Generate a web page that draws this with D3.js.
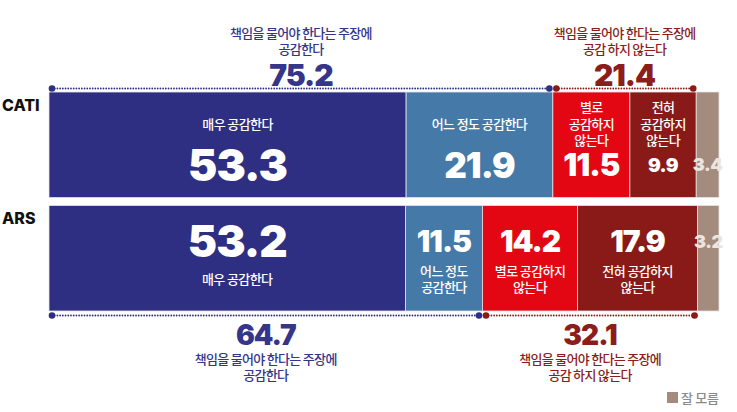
<!DOCTYPE html>
<html><head><meta charset="utf-8">
<script src="https://cdn.jsdelivr.net/npm/d3@7"></script>
<style>
html,body{margin:0;padding:0;background:#fff;}
svg{display:block;}
.kr{font-family:"Noto Sans CJK KR","Noto Sans",sans-serif;font-weight:500;}
.num{font-family:Inter,"Noto Sans",sans-serif;font-weight:900;}
</style></head>
<body>
<svg id="chart" width="737" height="412"></svg>
<script>
// ---- data ----
const methods = ["CATI", "ARS"];
const categories = ["매우 공감한다", "어느 정도 공감한다", "별로 공감하지 않는다", "전혀 공감하지 않는다", "잘 모름"];
const catiValues = [53.3, 21.9, 11.5, 9.9, 3.4];
const arsValues = [53.2, 11.5, 14.2, 17.9, 3.2];
const agreeTotals = [75.2, 64.7];
const disagreeTotals = [21.4, 32.1];
const catiLabels = [["매우 공감한다"], ["어느 정도 공감한다"], ["별로", "공감하지", "않는다"], ["전혀", "공감하지", "않는다"], []];
const arsLabels = [["매우 공감한다"], ["어느 정도", "공감한다"], ["별로 공감하지", "않는다"], ["전혀 공감하지", "않는다"], []];
const agreeText = ["책임을 물어야 한다는 주장에", "공감한다"];
const disagreeText = ["책임을 물어야 한다는 주장에", "공감 하지 않는다"];
const legendLabel = "잘 모름";

const colors = ["#2e2e82", "#4579a8", "#e30613", "#891a17", "#a38b7d"];
const navyText = "#35358a", redText = "#8b1d1b";

const svg = d3.select("#chart");
const x = d3.scaleLinear().domain([0, 100]).range([49, 719]);
const y = d3.scaleBand().domain(methods).range([92, 311]).paddingInner(0.07);
const color = d3.scaleOrdinal().domain(categories).range(colors);

const rows = [
  {method: "CATI", values: catiValues, labels: catiLabels, numSizes: [44, 35, 31, 19, 18]},
  {method: "ARS", values: arsValues, labels: arsLabels, numSizes: [44, 30, 30, 30, 18]}
];

rows.forEach((row, ri) => {
  let acc = 0;
  const segs = row.values.map((v, i) => {
    const s = {v, i, x0: acc, x1: acc + v, cat: categories[i], lines: row.labels[i], fs: row.numSizes[i]};
    acc += v;
    return s;
  });
  const top = y(row.method), bw = y.bandwidth();
  const g = svg.append("g");
  g.selectAll("rect").data(segs).join("rect")
    .attr("x", d => x(d.x0)).attr("y", top)
    .attr("width", d => x(d.x1) - x(d.x0)).attr("height", bw)
    .attr("fill", d => color(d.cat))
    .attr("stroke", "#e4e4e4").attr("stroke-width", 0.8);

  segs.forEach(d => {
    const cx = (x(d.x0) + x(d.x1)) / 2 + (d.i === 0 ? 10 : 0);
    const numColor = d.i === 4 ? "#ece4df" : "#fff";
    let numY, lineY0;
    const lh = 16.5;
    if (ri === 0) {
      numY = top + 73;
      lineY0 = top + 32 - (d.lines.length - 1) * lh / 2;
    } else {
      numY = top + 36;
      lineY0 = top + 74 - (d.lines.length - 1) * lh / 2;
    }
    g.append("text").attr("class", "num")
      .attr("x", cx).attr("y", numY).attr("dy", "0.36em")
      .attr("text-anchor", "middle").attr("fill", numColor)
      .attr("font-size", d.fs).attr("letter-spacing", d.fs > 25 ? -1 : -0.5)
      .text(d.v.toFixed(1));
    d.lines.forEach((ln, k) => {
      g.append("text").attr("class", "kr")
        .attr("x", cx).attr("y", lineY0 + k * lh).attr("dy", "0.35em")
        .attr("text-anchor", "middle").attr("fill", "#fff")
        .attr("font-size", 13).attr("letter-spacing", -0.6)
        .text(ln);
    });
  });

  // row label
  svg.append("text").attr("x", 2).attr("y", top + 13).attr("dy", "0.36em")
    .attr("font-family", "Inter, 'Noto Sans', sans-serif").attr("font-weight", 800)
    .attr("font-size", 16).attr("fill", "#111").text(row.method);

  // bracket
  const by = ri === 0 ? top - 3.5 : top + bw + 4.5;
  const agreeEnd = row.values[0] + row.values[1];
  const disEnd = agreeEnd + row.values[2] + row.values[3];
  const brackets = [
    {a: 0, b: agreeEnd, c: colors[0], tc: navyText, total: agreeTotals[ri], txt: agreeText, dl: 3, dr: -3.5},
    {a: agreeEnd, b: disEnd, c: colors[3], tc: redText, total: disagreeTotals[ri], txt: disagreeText, dl: 3.5, dr: -3}
  ];
  brackets.forEach(b => {
    const xa = x(b.a) + b.dl, xb = x(b.b) + b.dr;
    svg.append("line").attr("x1", xa).attr("x2", xb).attr("y1", by).attr("y2", by)
      .attr("stroke", b.c).attr("stroke-width", 1.8)
      .attr("stroke-linecap", "round").attr("stroke-dasharray", "0.01 2.7");
    [xa, xb].forEach(px => svg.append("circle").attr("cx", px).attr("cy", by).attr("r", 3.3).attr("fill", b.c));
    const cx = (x(b.a) + x(b.b)) / 2;
    const fsT = ri === 0 ? 30 : 28;
    if (ri === 0) {
      svg.append("text").attr("class", "num").attr("x", cx).attr("y", 75).attr("dy", "0.36em")
        .attr("text-anchor", "middle").attr("fill", b.tc).attr("font-size", fsT).attr("letter-spacing", -1)
        .text(b.total.toFixed(1));
      b.txt.forEach((t, k) => svg.append("text").attr("class", "kr")
        .attr("x", cx).attr("y", 33 + k * 16.5).attr("dy", "0.35em").attr("text-anchor", "middle")
        .attr("fill", b.tc).attr("font-size", 13).attr("letter-spacing", -0.7).text(t));
    } else {
      svg.append("text").attr("class", "num").attr("x", cx).attr("y", 335).attr("dy", "0.36em")
        .attr("text-anchor", "middle").attr("fill", b.tc).attr("font-size", fsT).attr("letter-spacing", -1)
        .text(b.total.toFixed(1));
      b.txt.forEach((t, k) => svg.append("text").attr("class", "kr")
        .attr("x", cx).attr("y", 359 + k * 16.5).attr("dy", "0.35em").attr("text-anchor", "middle")
        .attr("fill", b.tc).attr("font-size", 13).attr("letter-spacing", -0.7).text(t));
    }
  });
});

// legend
const lg = svg.append("g");
lg.append("rect").attr("x", 667).attr("y", 392).attr("width", 11).attr("height", 11).attr("fill", colors[4]);
lg.append("text").attr("class", "kr").attr("x", 681).attr("y", 398).attr("dy", "0.35em")
  .attr("font-size", 13).attr("fill", "#8a8a8a").attr("letter-spacing", -0.3).text(legendLabel);
</script>
</body></html>
